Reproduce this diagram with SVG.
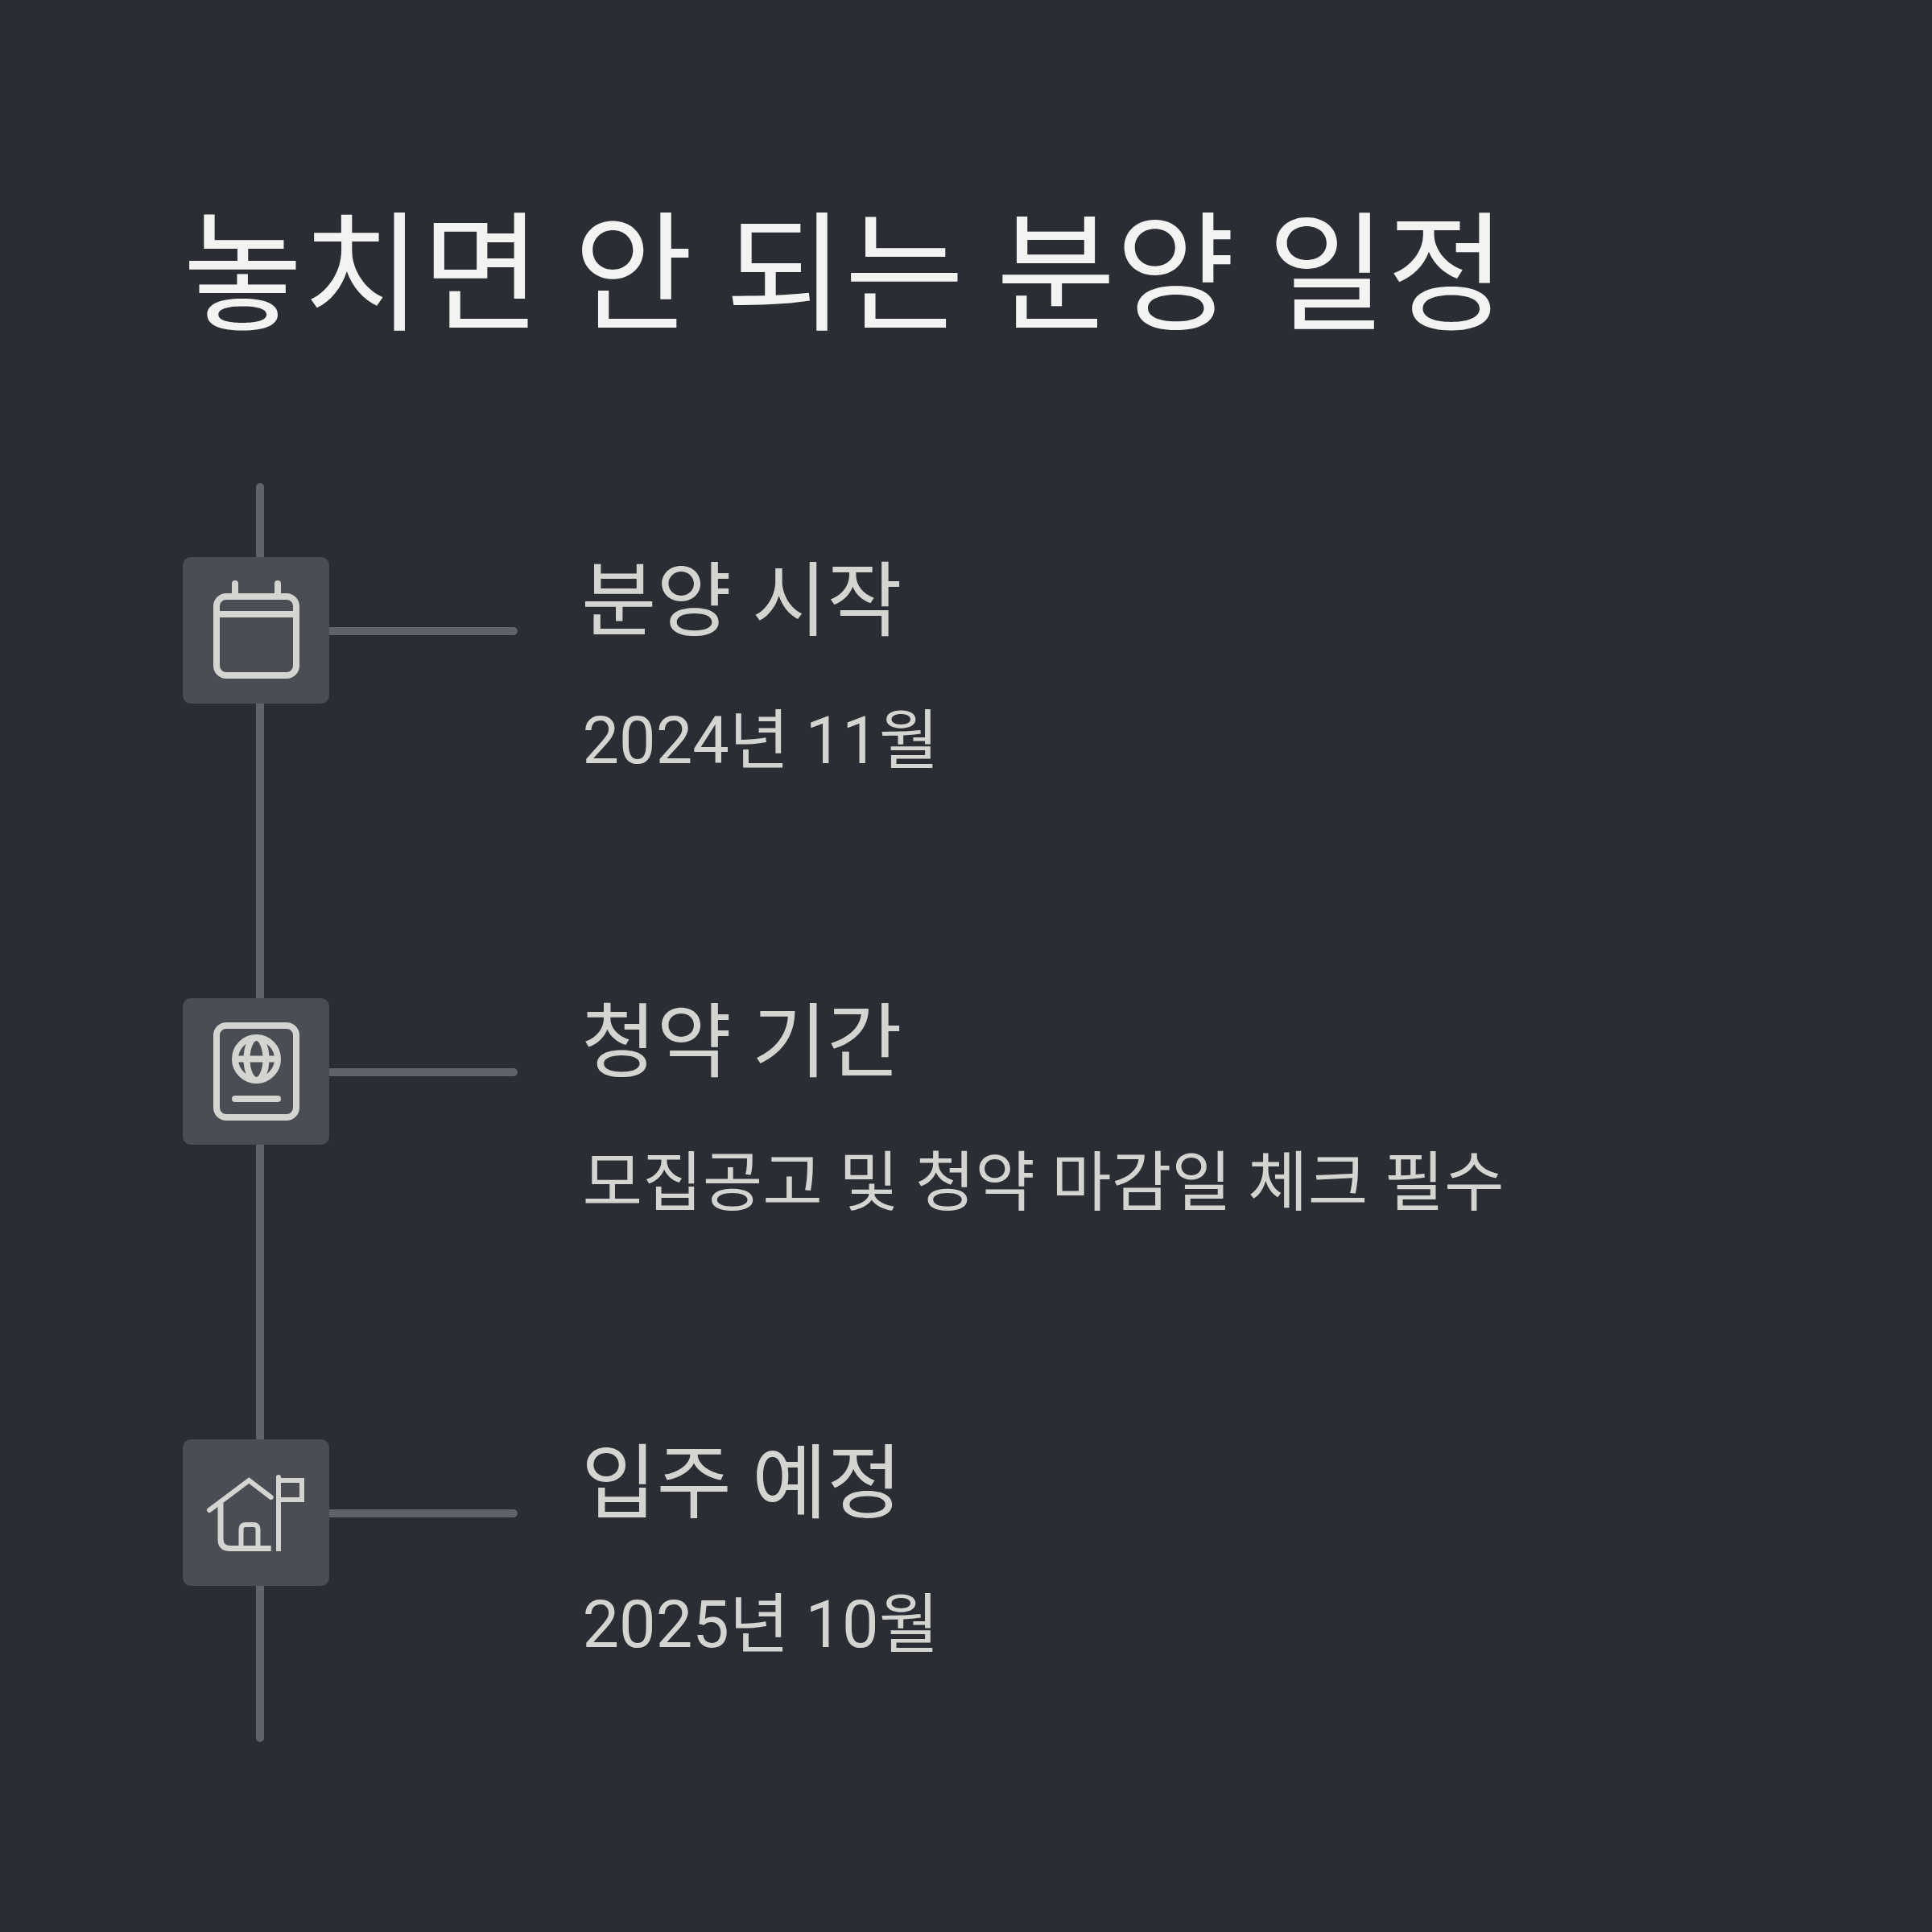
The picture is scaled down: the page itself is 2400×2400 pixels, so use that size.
<svg xmlns="http://www.w3.org/2000/svg" width="2400" height="2400" viewBox="0 0 2400 2400">
<style>
text{font-family:"Roboto","Noto Sans CJK KR",sans-serif}
.t{font-size:161.3px;fill:#f3f3f1}
.h{font-size:101.5px;fill:#d4d5d0}
.s{font-size:81.1px;fill:#d4d5d0}
.c{fill:none;stroke:#5f636c;stroke-width:10;stroke-linecap:round}
.b{fill:#4a4d54}
.i{fill:none;stroke:#d4d5d0;stroke-width:8;stroke-linecap:round}
.j{fill:none;stroke:#d4d5d0;stroke-width:6}
</style>
<rect width="2400" height="2400" fill="#2a2d34"/>
<text class="t" x="227.2" y="398">놓치면 안 되는 분양 일정</text>
<g id="connectors">
<path class="c" d="M323 605V2159"/>
<path class="c" d="M409 784H638"/>
<path class="c" d="M409 1332H638"/>
<path class="c" d="M409 1880H638"/>
</g>
<g id="node-1">
<rect class="b" x="227" y="692" width="182" height="182" rx="10"/>
<path class="i" d="M292 725V741M345 725V741"/>
<path class="i" stroke-linecap="butt" d="M269 763H368"/>
<rect class="i" x="269" y="741" width="99" height="98" rx="12"/>
<text class="h" x="722" y="782">분양 시작</text>
<text class="s" x="723.5" y="948">2024년 11월</text>
</g>
<g id="node-2">
<rect class="b" x="227" y="1240" width="182" height="182" rx="10"/>
<rect class="i" x="269" y="1274" width="99" height="114" rx="12"/>
<circle class="i" cx="318.5" cy="1315.5" r="26.5"/>
<ellipse class="i" cx="318.5" cy="1315.5" rx="12" ry="26.5"/>
<path class="i" d="M296 1315.5H341"/>
<path class="i" d="M292 1365H345"/>
<text class="h" x="722" y="1330">청약 기간</text>
<text class="s" x="723.5" y="1497">모집공고 및 청약 마감일 체크 필수</text>
</g>
<g id="node-3">
<rect class="b" x="227" y="1788" width="182" height="182" rx="10"/>
<path class="j" d="M260 1876L309.3 1839L336.7 1860" stroke-linecap="round"/>
<path class="j" style="stroke-width:7" d="M274 1867V1912Q274 1923.5 286 1923.5H336.7"/>
<path class="j" d="M299.5 1923V1900Q299.5 1894 305.5 1894H314.5Q320.5 1894 320.5 1900V1923"/>
<path class="j" d="M346 1835V1927"/>
<circle cx="346" cy="1835" r="3" fill="#d4d5d0"/>
<path class="j" d="M346 1839H375V1863H346"/>
<text class="h" x="722" y="1878">입주 예정</text>
<text class="s" x="723.5" y="2046">2025년 10월</text>
</g>
</svg>
